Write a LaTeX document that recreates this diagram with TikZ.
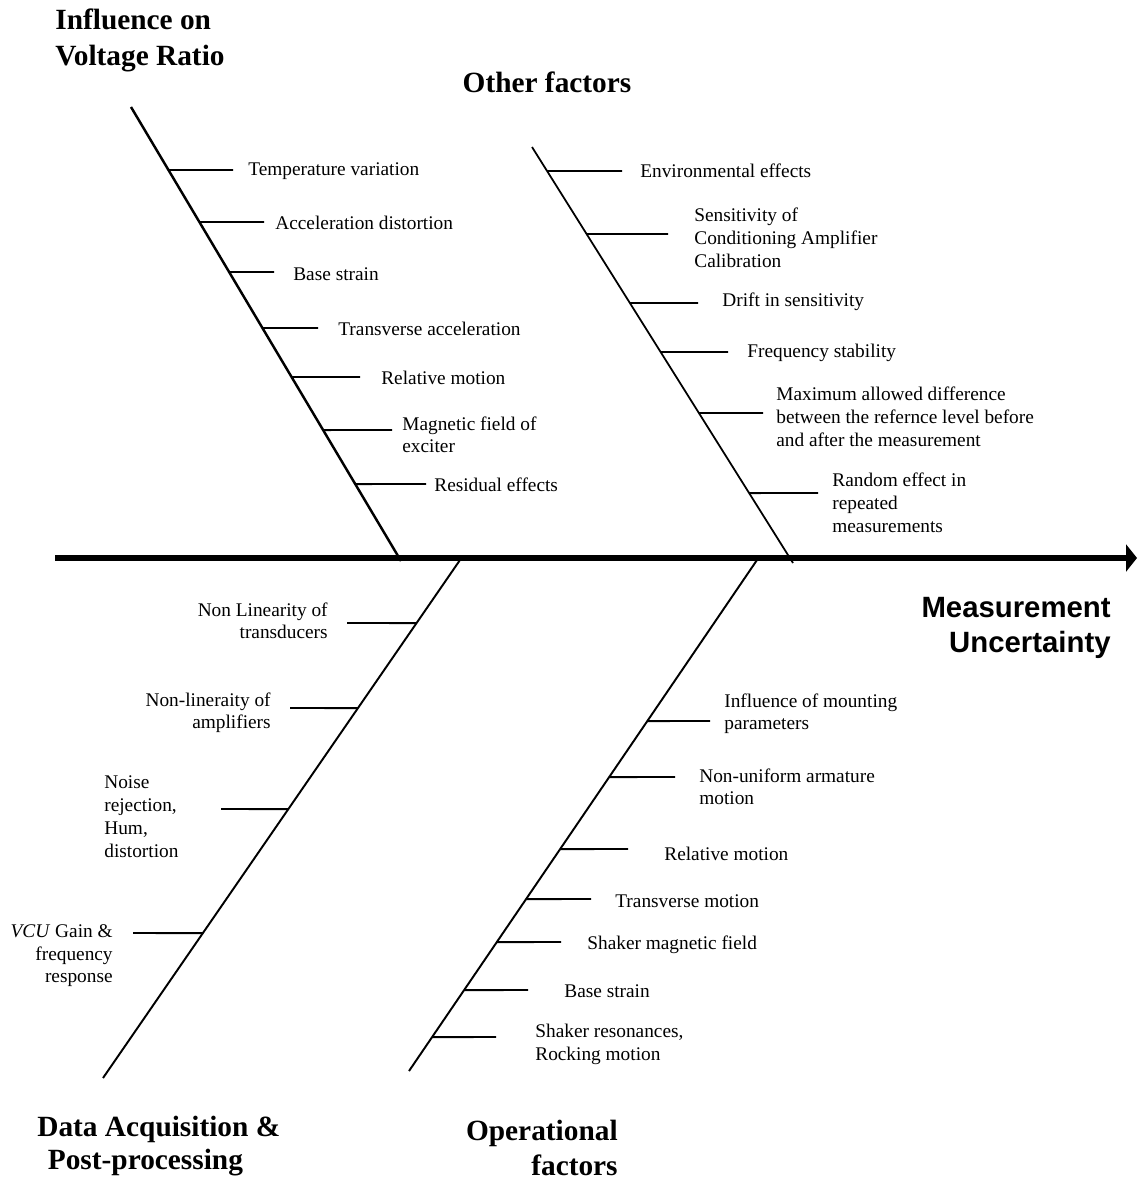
\documentclass[tikz,border=0pt]{standalone}
\usepackage{fontspec}
\setmainfont{Liberation Serif}
\setsansfont{Liberation Sans}
\usetikzlibrary{arrows.meta}

\begin{document}
\begin{tikzpicture}[
    x=0.02cm, y=-0.02cm,
    font=\fontsize{11}{13}\selectfont,
    >={Triangle[length=2.2mm,width=5.4mm]},
    lab/.style={inner sep=0pt, align=left, anchor=west, yshift=-1pt},
    labr/.style={inner sep=0pt, align=right, anchor=east, yshift=-1pt},
    head/.style={inner sep=0pt, font=\fontsize{16.7}{20.4}\selectfont\bfseries},
    bone/.style={line width=1.1pt},
    tick/.style={line width=1.1pt},
  ]
  \useasboundingbox (0,0) rectangle (1137,1182);

  %% ---- spine -----------------------------------------------------------
  \coordinate (axA) at (55,558);
  \coordinate (axB) at (1137,558);
  \draw[->, line width=3.1pt] (axA) -- (axB);
  \node[head, font=\fontsize{16.7}{19.8}\selectfont\sffamily\bfseries,
        align=right, anchor=east] (mu) at (1111,628) {Measurement\\Uncertainty};

  %% ---- influence on voltage ratio --------------------------------------
  \coordinate (ivrA) at (131,107);
  \coordinate (ivrB) at (401,561);
  \draw[bone, line width=1.4pt] (ivrA) -- (ivrB);
  \node[head, align=left, anchor=west] (ivr) at (55,40) {Influence on\\Voltage Ratio};

  \draw[tick] (intersection of ivrA--ivrB and 0,170--1,170) -- (233,170);
  \node[lab] (temp) at (248,169) {Temperature variation};
  \draw[tick] (intersection of ivrA--ivrB and 0,222--1,222) -- (264,222);
  \node[lab] (accdist) at (275,221) {Acceleration distortion};
  \draw[tick] (intersection of ivrA--ivrB and 0,272--1,272) -- (274,272);
  \node[lab] (basestr) at (293,272) {Base strain};
  \draw[tick] (intersection of ivrA--ivrB and 0,328--1,328) -- (318,328);
  \node[lab] (transacc) at (338,327) {Transverse acceleration};
  \draw[tick] (intersection of ivrA--ivrB and 0,377--1,377) -- (360,377);
  \node[lab] (relmot) at (381,376) {Relative motion};
  \draw[tick] (intersection of ivrA--ivrB and 0,430--1,430) -- (392,430);
  \node[lab] (magfld) at (402,433) {Magnetic field of\\exciter};
  \draw[tick] (intersection of ivrA--ivrB and 0,484--1,484) -- (426,484);
  \node[lab] (resid) at (434,483) {Residual effects};

  %% ---- other factors ---------------------------------------------------
  \coordinate (othA) at (532,147);
  \coordinate (othB) at (793,563);
  \draw[bone, line width=1pt] (othA) -- (othB);
  \node[head] (oth) at (547,82) {Other factors};

  \draw[tick] (intersection of othA--othB and 0,171--1,171) -- (622,171);
  \node[lab] (env) at (640,169) {Environmental effects};
  \draw[tick] (intersection of othA--othB and 0,234--1,234) -- (668,234);
  \node[lab] (sens) at (694,236) {Sensitivity of\\Conditioning Amplifier\\Calibration};
  \draw[tick] (intersection of othA--othB and 0,303--1,303) -- (698,303);
  \node[lab] (drift) at (722,300) {Drift in sensitivity};
  \draw[tick] (intersection of othA--othB and 0,352--1,352) -- (728,352);
  \node[lab] (freq) at (747,351) {Frequency stability};
  \draw[tick] (intersection of othA--othB and 0,413--1,413) -- (763,413);
  \node[lab] (maxdiff) at (776,415)
    {Maximum allowed difference\\between the refernce level before\\and after the measurement};
  \draw[tick] (intersection of othA--othB and 0,493--1,493) -- (818,493);
  \node[lab] (random) at (832,501) {Random effect in\\repeated\\measurements};

  %% ---- data acquisition & post-processing ------------------------------
  \coordinate (dalA) at (460,560);
  \coordinate (dalB) at (103,1078);
  \draw[bone] (dalA) -- (dalB);
  \node[head, font=\fontsize{16.7}{19.3}\selectfont\bfseries, align=left, anchor=west]
    (dal) at (37,1146) {Data Acquisition \&\\\hspace*{6pt}Post-processing};

  \draw[tick] (intersection of dalA--dalB and 0,623--1,623) -- (347,623);
  \node[labr] (nlt) at (328,619) {Non Linearity of\\transducers};
  \draw[tick] (intersection of dalA--dalB and 0,708--1,708) -- (290,708);
  \node[labr] (nla) at (271,711) {Non-lineraity of\\amplifiers};
  \draw[tick] (intersection of dalA--dalB and 0,809--1,809) -- (221,809);
  \node[lab] (noise) at (104,815) {Noise\\rejection,\\Hum,\\distortion};
  \draw[tick] (intersection of dalA--dalB and 0,933--1,933) -- (133,933);
  \node[labr] (vcu) at (113,954) {\textit{VCU} Gain \&\\frequency\\response};

  %% ---- operational factors ---------------------------------------------
  \coordinate (opfA) at (757,560);
  \coordinate (opfB) at (409,1071);
  \draw[bone] (opfA) -- (opfB);
  \node[head, align=right, anchor=east] (opf) at (618,1148) {Operational\\factors};

  \draw[tick] (intersection of opfA--opfB and 0,721--1,721) -- (710,721);
  \node[lab] (mount) at (724,712) {Influence of mounting\\parameters};
  \draw[tick] (intersection of opfA--opfB and 0,777--1,777) -- (675,777);
  \node[lab] (armat) at (699,785) {Non-uniform armature\\motion};
  \draw[tick] (intersection of opfA--opfB and 0,849--1,849) -- (628,849);
  \node[lab] (relmotb) at (664,852) {Relative motion};
  \draw[tick] (intersection of opfA--opfB and 0,899--1,899) -- (591,899);
  \node[lab] (transmot) at (615,899) {Transverse motion};
  \draw[tick] (intersection of opfA--opfB and 0,942--1,942) -- (561,942);
  \node[lab] (shakmag) at (587,943) {Shaker magnetic field};
  \draw[tick] (intersection of opfA--opfB and 0,990--1,990) -- (528,990);
  \node[lab] (basestrb) at (564,989) {Base strain};
  \draw[tick] (intersection of opfA--opfB and 0,1037--1,1037) -- (496,1037);
  \node[lab] (shakres) at (535,1043) {Shaker resonances,\\Rocking motion};
\end{tikzpicture}
\end{document}
